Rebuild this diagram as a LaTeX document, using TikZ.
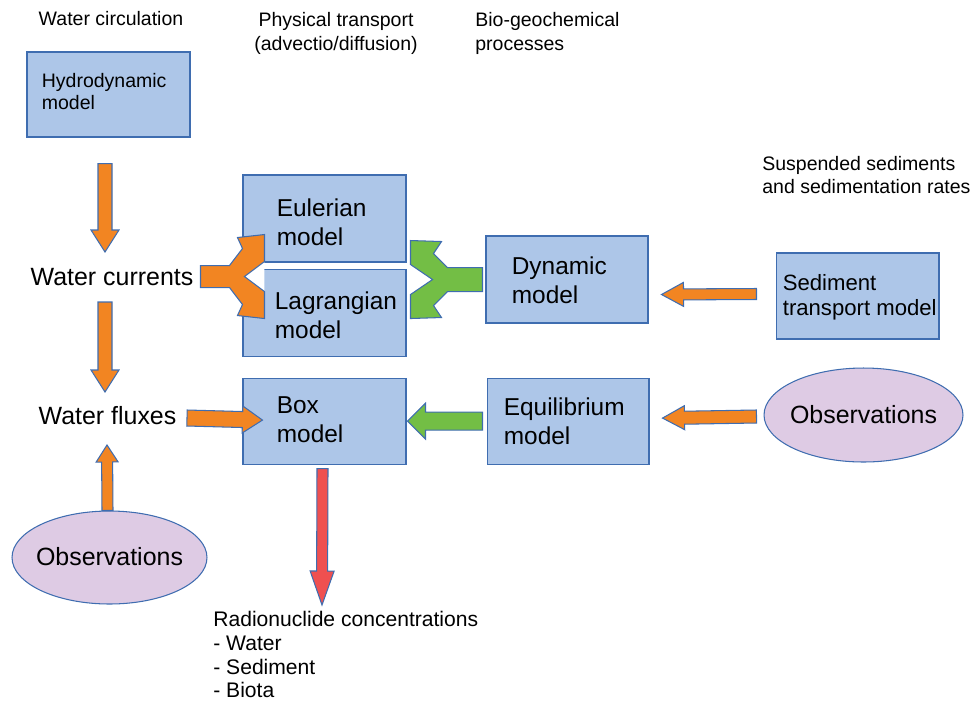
\documentclass[tikz,border=0pt]{standalone}
\usepackage{fontspec}
\setmainfont{Liberation Sans}
\usetikzlibrary{positioning,calc,shapes.geometric}
\definecolor{boxfill}{HTML}{ADC6E8}
\definecolor{boxline}{HTML}{3F6DB0}
\definecolor{orangefill}{HTML}{F28522}
\definecolor{greenfill}{HTML}{73BE45}
\definecolor{redfill}{HTML}{EF5050}
\definecolor{obsfill}{HTML}{DECBE4}

% block arrow: style, tail, tip, shaft half width, head half width, head length
\newcommand\fatarrow[6]{%
  \coordinate (fa-h) at ($(#3)!#6!(#2)$);
  \draw[#1] ($(#2)!#4!90:(#3)$) -- ($(fa-h)!#4!-90:(#2)$) -- ($(fa-h)!#5!-90:(#2)$) -- (#3)
    -- ($(fa-h)!#5!90:(#2)$) -- ($(fa-h)!#4!90:(#2)$) -- ($(#2)!#4!-90:(#3)$) -- cycle;}

\begin{document}
\begin{tikzpicture}[x=0.02cm, y=-0.02cm,
  box/.style={draw=boxline, fill=boxfill, line width=0.6pt, minimum width=3.26cm, minimum height=1.74cm, inner sep=0pt},
  obs/.style={ellipse, draw=boxline, fill=obsfill, line width=0.6pt, inner sep=0pt},
  head/.style={inner sep=0pt, font=\fontsize{11.1}{13.6}\selectfont},
  boxtext/.style={anchor=north west, align=left, inner sep=0pt, font=\fontsize{13.9}{16.2}\selectfont},
  bigtext/.style={inner sep=0pt, font=\fontsize{14.2}{17}\selectfont},
  orangearrow/.style={draw=boxline, fill=orangefill, line width=0.6pt, line join=miter},
  greenarrow/.style={draw=boxline, fill=greenfill, line width=0.6pt, line join=miter},
  redarrow/.style={draw=boxline, fill=redfill, line width=0.6pt, line join=miter}]
\useasboundingbox (0,0) rectangle (973,701);

% column headers
\node[head] (circ) at (111,19) {Water circulation};
\node[head, anchor=north, align=center] (phys) at (336,12) {Physical transport\\(advectio/diffusion)};
\node[head, anchor=north west, align=left] (bio) at (475,12) {Bio-geochemical\\processes};
\node[head, anchor=north west, align=left, font=\fontsize{11.1}{13.2}\selectfont] (susp) at (762,156) {Suspended sediments\\and sedimentation rates};

% models
\node[box, minimum height=1.70cm] (hydro) at (108.5,94.5) {};
\node[box] (euler) at (324.5,218.5) {};
\node[box, below=0.12cm of euler] (lagr) {};
\node[box, minimum height=1.72cm, below=0.42cm of lagr] (boxm) {};
\node[box, minimum width=3.24cm, minimum height=1.72cm, right=1.6cm of boxm] (equi) {};
\node[box, minimum width=3.24cm] (dyn) at (567,279.5) {};
\node[box, minimum height=1.72cm] (sedi) at (857.5,296) {};
\node[obs, minimum width=3.98cm, minimum height=1.88cm] (obsR) at (863.5,415) {};
\node[obs, minimum width=3.90cm, minimum height=1.86cm] (obsL) at (109.5,557.5) {};

\node[boxtext, font=\fontsize{11.1}{12.5}\selectfont] (hydrotxt) at ($(hydro.north west)+(15,22)$) {Hydrodynamic\\model};
\node[boxtext] (eulertxt) at ($(euler.north west)+(34,24)$) {Eulerian\\model};
\node[boxtext] (lagrtxt) at ($(lagr.north west)+(32,23)$) {Lagrangian\\model};
\node[boxtext] (boxmtxt) at ($(boxm.north west)+(34,19)$) {Box\\model};
\node[boxtext] (dyntxt) at ($(dyn.north west)+(26,21)$) {Dynamic\\model};
\node[boxtext] (equitxt) at ($(equi.north west)+(17,20)$) {Equilibrium\\model};
\node[boxtext, font=\fontsize{12.6}{14.2}\selectfont] (seditxt) at ($(sedi.north west)+(7,22)$) {Sediment\\transport model};
\node[bigtext] (obsRtxt) at (obsR) {Observations};
\node[bigtext] (obsLtxt) at ($(obsL)+(0,-1)$) {Observations};

\node[bigtext] (wcur) at (112,277) {Water currents};
\node[bigtext] (wflux) at (107.5,416) {Water fluxes};
\node[boxtext, font=\fontsize{12}{13.5}\selectfont] (radio) at (213,611) {Radionuclide concentrations\\- Water\\- Sediment\\- Biota};

% straight arrows
\coordinate (a1s) at ($(hydro.south)+(-3.5,26)$);
\coordinate (a1e) at ($(wcur)+(-7,-25)$);
\fatarrow{orangearrow}{a1s}{a1e}{0.14cm}{0.28cm}{0.44cm}
\coordinate (a2s) at ($(wcur)+(-7,25)$);
\coordinate (a2e) at ($(wflux)+(-2.5,-24)$);
\fatarrow{orangearrow}{a2s}{a2e}{0.14cm}{0.28cm}{0.44cm}
\coordinate (a3s) at ($(obsL.north)+(-2,0)$);
\coordinate (a3e) at ($(wflux)+(-0.5,29)$);
\fatarrow{orangearrow}{a3s}{a3e}{0.11cm}{0.22cm}{0.34cm}
\coordinate (a4s) at ($(wflux)+(79.5,2)$);
\coordinate (a4e) at ($(boxm.west)+(20,-1)$);
\fatarrow{orangearrow}{a4s}{a4e}{0.16cm}{0.27cm}{0.40cm}
\coordinate (a5s) at ($(equi.west)+(-4,0)$);
\coordinate (a5e) at ($(boxm.east)+(1,0)$);
\fatarrow{greenarrow}{a5s}{a5e}{0.18cm}{0.36cm}{0.36cm}
\coordinate (a6s) at ($(boxm.south)+(-2,4)$);
\coordinate (a6e) at ($(radio.north west)+(109,-6)$);
\fatarrow{redarrow}{a6s}{a6e}{0.11cm}{0.24cm}{0.68cm}
\coordinate (a7s) at ($(sedi.west)+(-19,-2)$);
\coordinate (a7e) at ($(dyn.east)+(13,15)$);
\fatarrow{orangearrow}{a7s}{a7e}{0.11cm}{0.24cm}{0.44cm}
\coordinate (a8s) at ($(obsR.west)+(-7,1.5)$);
\coordinate (a8e) at ($(equi.east)+(13,-3)$);
\fatarrow{orangearrow}{a8s}{a8e}{0.13cm}{0.24cm}{0.44cm}

% forked arrows
\coordinate (fork1) at ($(euler.south west)+(0,14)$);
\begin{scope}[shift={(fork1)}]
  \fill[white] (2,0) -- (22,-15) -- (22,15) -- cycle;
  \draw[orangearrow] (-42,-11) -- (-13,-11) -- (0,-28) -- (-5,-39) -- (22,-42) -- (22,-15) -- (2,0)
    -- (22,15) -- (22,42) -- (-5,39) -- (0,28) -- (-13,11) -- (-42,11) -- cycle;
\end{scope}
\coordinate (fork2) at ($(lagr.north east)+(0,11)$);
\begin{scope}[shift={(fork2)}]
  \fill[white] (26,0) -- (4,-15) -- (4,15) -- cycle;
  \draw[greenarrow] (76,-12) -- (41,-12) -- (27,-26) -- (35,-38) -- (4,-39) -- (4,-15) -- (26,0)
    -- (4,15) -- (4,39) -- (35,38) -- (27,26) -- (41,12) -- (76,12) -- cycle;
\end{scope}
\end{tikzpicture}
\end{document}
